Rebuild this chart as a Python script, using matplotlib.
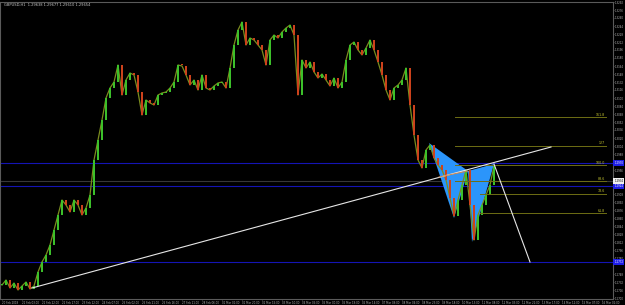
import numpy as np
import pandas as pd
import matplotlib
matplotlib.use("Agg")
import matplotlib.pyplot as plt
from matplotlib.transforms import blended_transform_factory

# closes, one candle every ~4 px
closes = [1.2726, 1.2736, 1.2720, 1.2730, 1.2716, 1.2724, 1.2732, 1.2718, 1.2724, 1.2752,
          1.2772, 1.2786, 1.2806, 1.2836, 1.2866, 1.2896, 1.2886, 1.2872, 1.2896, 1.2886,
          1.2866, 1.2880, 1.2906, 1.2976, 1.3016, 1.3056, 1.3100, 1.3120, 1.3132, 1.3166,
          1.3106, 1.3136, 1.3150, 1.3146, 1.3112, 1.3066, 1.3096, 1.3090, 1.3086, 1.3106,
          1.3110, 1.3112, 1.3120, 1.3132, 1.3166, 1.3164, 1.3146, 1.3126, 1.3136, 1.3116,
          1.3146, 1.3120, 1.3116, 1.3124, 1.3130, 1.3132, 1.3120, 1.3160, 1.3206, 1.3236,
          1.3252, 1.3206, 1.3220, 1.3216, 1.3206, 1.3196, 1.3166, 1.3216, 1.3226, 1.3220,
          1.3232, 1.3240, 1.3246, 1.3226, 1.3106, 1.3176, 1.3160, 1.3172, 1.3152, 1.3140,
          1.3148, 1.3136, 1.3124, 1.3140, 1.3120, 1.3132, 1.3176, 1.3206, 1.3212, 1.3196,
          1.3186, 1.3200, 1.3216, 1.3196, 1.3172, 1.3146, 1.3116, 1.3096, 1.3120, 1.3126,
          1.3136, 1.3160, 1.3086, 1.3026, 1.2976, 1.2960, 1.2996, 1.3006, 1.2980, 1.2966,
          1.2956, 1.2936, 1.2900, 1.2864, 1.2896, 1.2926, 1.2956, 1.2886, 1.2816, 1.2866,
          1.2886, 1.2906, 1.2926, 1.2964]

# harmonic pattern points X, A, B, C, D
pattern_bars = [106.75, 113, 116.5, 117.5, 123]
pattern_prices = [1.3010, 1.2860, 1.2954, 1.2812, 1.2968]

trend_bars = [7.5, 137.25]
trend_prices = [1.2720, 1.3002]
target_bars = [123, 132]
target_prices = [1.2968, 1.2772]

blue_levels = [1.2970, 1.2924, 1.2772]
gray_level = 1.2934

fib_prices = [1.3062, 1.3004, 1.2966, 1.2934, 1.2908, 1.2870]
fib_start = [113.25, 113.25, 113.25, 113.25, 119.5, 119.5]
fib_labels = ["161.8", "127", "100.0", "88.6", "78.6", "61.8"]
fib_end = 151

box_levels = blue_levels + [gray_level]
price_ticks = [round(1.2700 + 0.0016 * k, 4) for k in range(38)]
# the level boxes cover the scale labels underneath them
price_ticks = [p for p in price_ticks if min(abs(p - b) for b in box_levels) > 0.0008]
date_ticks = list(range(0, 153, 5))
date_labels = [d.strftime("%d %b %H:%M") for d in
               pd.date_range("2018-02-20 08:00", periods=len(date_ticks), freq="19h")]
date_labels[0] = "20 Feb 2018"

fig = plt.figure(figsize=(6.25, 3.05), dpi=100, facecolor="black")
ax = fig.add_axes([0, 6 / 305, 613 / 625, 297 / 305], facecolor="black")

# candles
idx = np.arange(len(closes))
c = np.array(closes)
o = np.r_[c[0], c[:-1]]
up = c >= o
body = np.where(np.abs(c - o) < 0.0002, 0.0002, c - o)
ax.plot(idx, c, color="#7a8c1e", lw=0.9, zorder=2.5)
ax.bar(idx[up], body[up], bottom=o[up], width=0.55, color="#3cc02a", lw=0, zorder=3)
ax.bar(idx[~up], body[~up], bottom=o[~up], width=0.55, color="#cc421c", lw=0, zorder=3)

# pattern triangles
ax.fill(pattern_bars[:3], pattern_prices[:3], color="#2b95fb", zorder=2, lw=0)
ax.fill(pattern_bars[2:], pattern_prices[2:], color="#2b95fb", zorder=2, lw=0)

# horizontal levels
for p in blue_levels:
    ax.axhline(p, color="#1414b4", lw=0.8, zorder=1)
ax.axhline(gray_level, color="#383838", lw=0.8, zorder=1)

# fib levels
for p, s, lab in zip(fib_prices, fib_start, fib_labels):
    ax.plot([s, fib_end], [p, p], color="#6e6e14", lw=0.7, zorder=4)
    ax.text(fib_end - 0.3, p + 0.0001, lab, color="#c8c832", fontsize=2.3,
            ha="right", va="bottom", zorder=5)

# trend line and projection
ax.plot(trend_bars, trend_prices, color="#e6e6e6", lw=0.8, zorder=5)
ax.plot([109.25, 116.5], [1.2942, 1.2954], color="#d2874b", lw=0.7, zorder=5)
ax.plot(target_bars, target_prices, color="#e6e6e6", lw=0.8, zorder=5)

ax.set_xlim(-0.5, 152.75)
ax.set_ylim(1.2698, 1.3292)

ax.yaxis.tick_right()
ax.set_yticks(price_ticks)
ax.set_yticklabels([f"{p:.4f}" for p in price_ticks])
ax.set_xticks(date_ticks)
ax.set_xticklabels(date_labels, ha="left")
ax.tick_params(colors="#8c8c8c", labelsize=1.9, length=1.0, width=0.4, pad=0.5)
ax.tick_params(axis="y", labelcolor="#b4b4b4")
ax.tick_params(axis="x", labelcolor="#b4b4b4")
for s in ax.spines.values():
    s.set_color("#5a5a5a")
    s.set_linewidth(0.8)

# price boxes on the right scale
tr = blended_transform_factory(ax.transAxes, ax.transData)
for p in blue_levels:
    ax.text(1.002, p, f"{p:.4f}", transform=tr, fontsize=1.9, color="white",
            va="center", ha="left", clip_on=False,
            bbox=dict(boxstyle="square,pad=0.3", fc="#1e1ee6", ec="none"))
ax.text(1.002, gray_level, f"{gray_level:.4f}", transform=tr, fontsize=1.9, color="black",
        va="center", ha="left", clip_on=False,
        bbox=dict(boxstyle="square,pad=0.3", fc="#f0f0f0", ec="none"))

ax.text(0.006, 0.997, "GBPUSD,H1  1.29638 1.29677 1.29610 1.29654",
        transform=ax.transAxes, fontsize=2.6, color="#c8c8c8", va="top")

fig.savefig("out.png", dpi=100, facecolor="black")
